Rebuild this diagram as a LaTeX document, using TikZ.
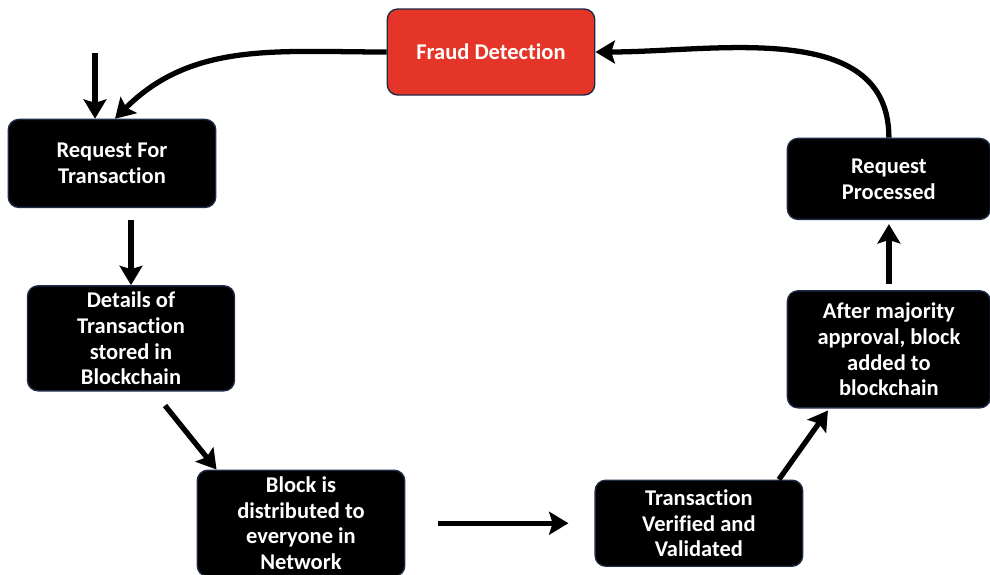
\documentclass[tikz,border=0pt]{standalone}
\usepackage{fontspec}
\setmainfont[Ligatures=NoCommon]{Carlito}
\usepackage{tikz}
\usetikzlibrary{arrows.meta,positioning}
\definecolor{fraudred}{RGB}{229,52,40}
\definecolor{boxedge}{RGB}{30,42,70}

\begin{document}
\begin{tikzpicture}[
    stage/.style={rectangle, draw=boxedge, line width=0.8pt, fill=black, text=white, rounded corners=6pt,
      minimum width=4.15cm, minimum height=1.72cm, inner sep=2pt, align=center,
      font=\fontsize{12.8}{14.7}\selectfont\bfseries},
    alert/.style={stage, fill=fraudred},
    arrow/.style={-{Stealth[length=11pt, width=13pt, inset=2pt]}, line width=3pt}
  ]
    \useasboundingbox (0,0) rectangle (19.8,-11.48);
    \node[alert] (fraud) at (9.82,-1.04) {Fraud Detection};
    \node[stage, minimum height=1.76cm, below=0.46cm of fraud, xshift=-7.58cm] (rft) {Request For\\Transaction};
    \node[stage, minimum height=2.1cm, minimum width=4.14cm, below=1.54cm of rft, xshift=0.38cm] (det) {Details of\\Transaction\\stored in\\Blockchain};
    \node[stage, minimum height=2.12cm, below=1.56cm of det, xshift=3.4cm] (blk) {Block is\\distributed to\\everyone in\\Network};
    \node[stage, right=3.78cm of blk] (tvv) {Transaction\\Verified and\\Validated};
    \node[stage, minimum height=2.34cm, minimum width=4.06cm, above=1.42cm of tvv, xshift=3.8cm] (maj) {After majority\\approval, block\\added to\\blockchain};
    \node[stage, minimum height=1.62cm, minimum width=4.06cm, above=1.4cm of maj] (rpr) {Request\\Processed};
    \coordinate (start) at (1.9,-1.06);
    \draw[arrow] (start) -- (start |- rft.north);
    \draw[arrow] (fraud.west) to[out=180, in=45] ([xshift=0.06cm]rft.north);
    \draw[arrow, shorten <=0.24cm] (rft.south -| det.north) -- (det.north);
    \draw[arrow] ([xshift=0.68cm, yshift=-0.28cm]det.south) -- ([xshift=0.4cm]blk.north west);
    \draw[arrow, shorten <=0.66cm, shorten >=0.52cm] (blk) -- (tvv);
    \draw[arrow] ([xshift=1.6cm]tvv.north) -- ([xshift=-1.22cm, yshift=-0.04cm]maj.south);
    \draw[arrow, shorten <=0.12cm, shorten >=0.08cm] (maj) -- (rpr);
    \draw[arrow] (rpr.north) to[out=90, in=0] (fraud.east);
  \end{tikzpicture}
\end{document}
